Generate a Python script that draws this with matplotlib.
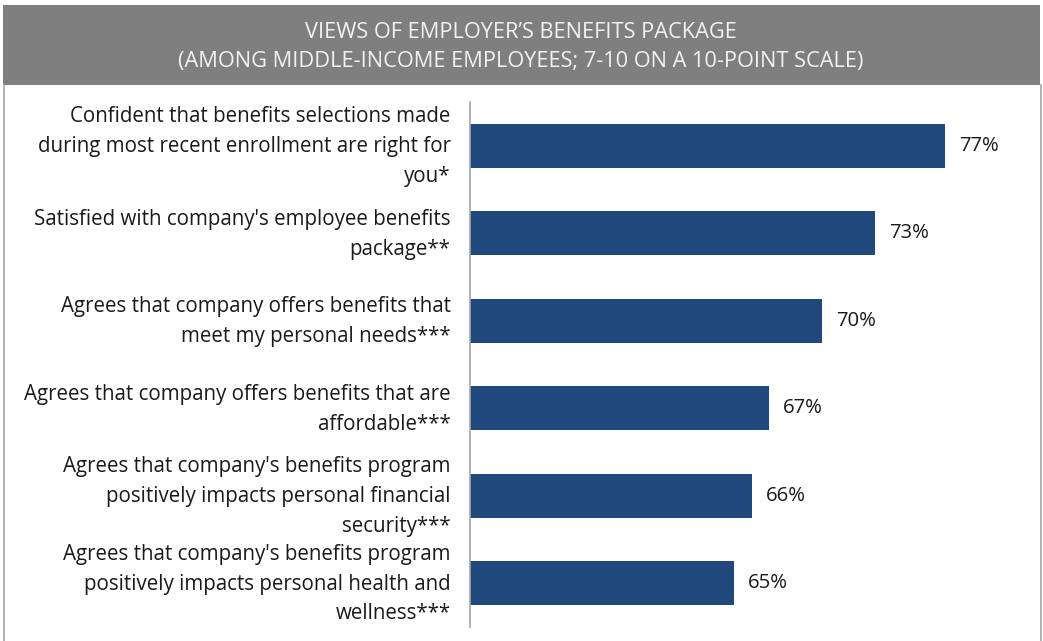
import matplotlib
matplotlib.use("Agg")
import matplotlib.pyplot as plt
import matplotlib.transforms as mtransforms
from matplotlib.patches import Rectangle
from matplotlib.lines import Line2D

title_lines = ["VIEWS OF EMPLOYER\u2019S BENEFITS PACKAGE",
               "(AMONG MIDDLE-INCOME EMPLOYEES; 7-10 ON A 10-POINT SCALE)"]
categories = [
    "Confident that benefits selections made\nduring most recent enrollment are right for\nyou*",
    "Satisfied with company's employee benefits\npackage**",
    "Agrees that company offers benefits that\nmeet my personal needs***",
    "Agrees that company offers benefits that are\naffordable***",
    "Agrees that company's benefits program\npositively impacts personal financial\nsecurity***",
    "Agrees that company's benefits program\npositively impacts personal health and\nwellness***",
]
values = [77, 73, 70, 67, 66, 65]

W, H = 1043, 641
fig = plt.figure(figsize=(W / 100, H / 100), dpi=100)
fig.patch.set_facecolor("white")

# header band and frame
fig.patches.append(Rectangle((3 / W, 1 - 85 / H), 1037 / W, 80 / H,
                             transform=fig.transFigure, facecolor="#7F7F7F",
                             edgecolor="none", zorder=0))
for x in (3.5, 1040.5):
    fig.add_artist(Line2D([x / W, x / W], [0, 1 - 85 / H], transform=fig.transFigure,
                          color="#A6A6A6", lw=1.2))
for i, line in enumerate(title_lines):
    fig.text(521 / W, 1 - (32 + 30 * i) / H, line, ha="center", va="center",
             color="#F2F2F2", fontsize=15.7, family="Open Sans")

ax = fig.add_axes([470 / W, 1 - 627 / H, (1040 - 470) / W, (627 - 102) / H])
y = list(range(len(values)))
ax.barh(y, values, height=0.5, color="#1F497D", left=0)
ax.set_xlim(50, 50 + 570 / 17.6)
ax.set_ylim(len(values) - 0.5, -0.5)
for s in ("top", "right", "bottom"):
    ax.spines[s].set_visible(False)
ax.spines["left"].set_color("#A6A6A6")
ax.spines["left"].set_linewidth(1.2)
ax.set_xticks([])
ax.set_yticks(y)
ax.set_yticklabels(categories, fontsize=14.8, family="Open Sans", color="#1A1A1A",
                   linespacing=1.55)
ax.tick_params(axis="y", length=0, pad=14)
shift = mtransforms.ScaledTranslation(0, 6 / 100, fig.dpi_scale_trans)
for lbl in ax.get_yticklabels():
    lbl.set_transform(lbl.get_transform() + shift)
for yi, v in zip(y, values):
    ax.text(v + 0.8, yi, f"{v}%", va="center", ha="left", fontsize=14.6,
            family="Open Sans", color="#1A1A1A")

fig.savefig("out.png", dpi=100)
